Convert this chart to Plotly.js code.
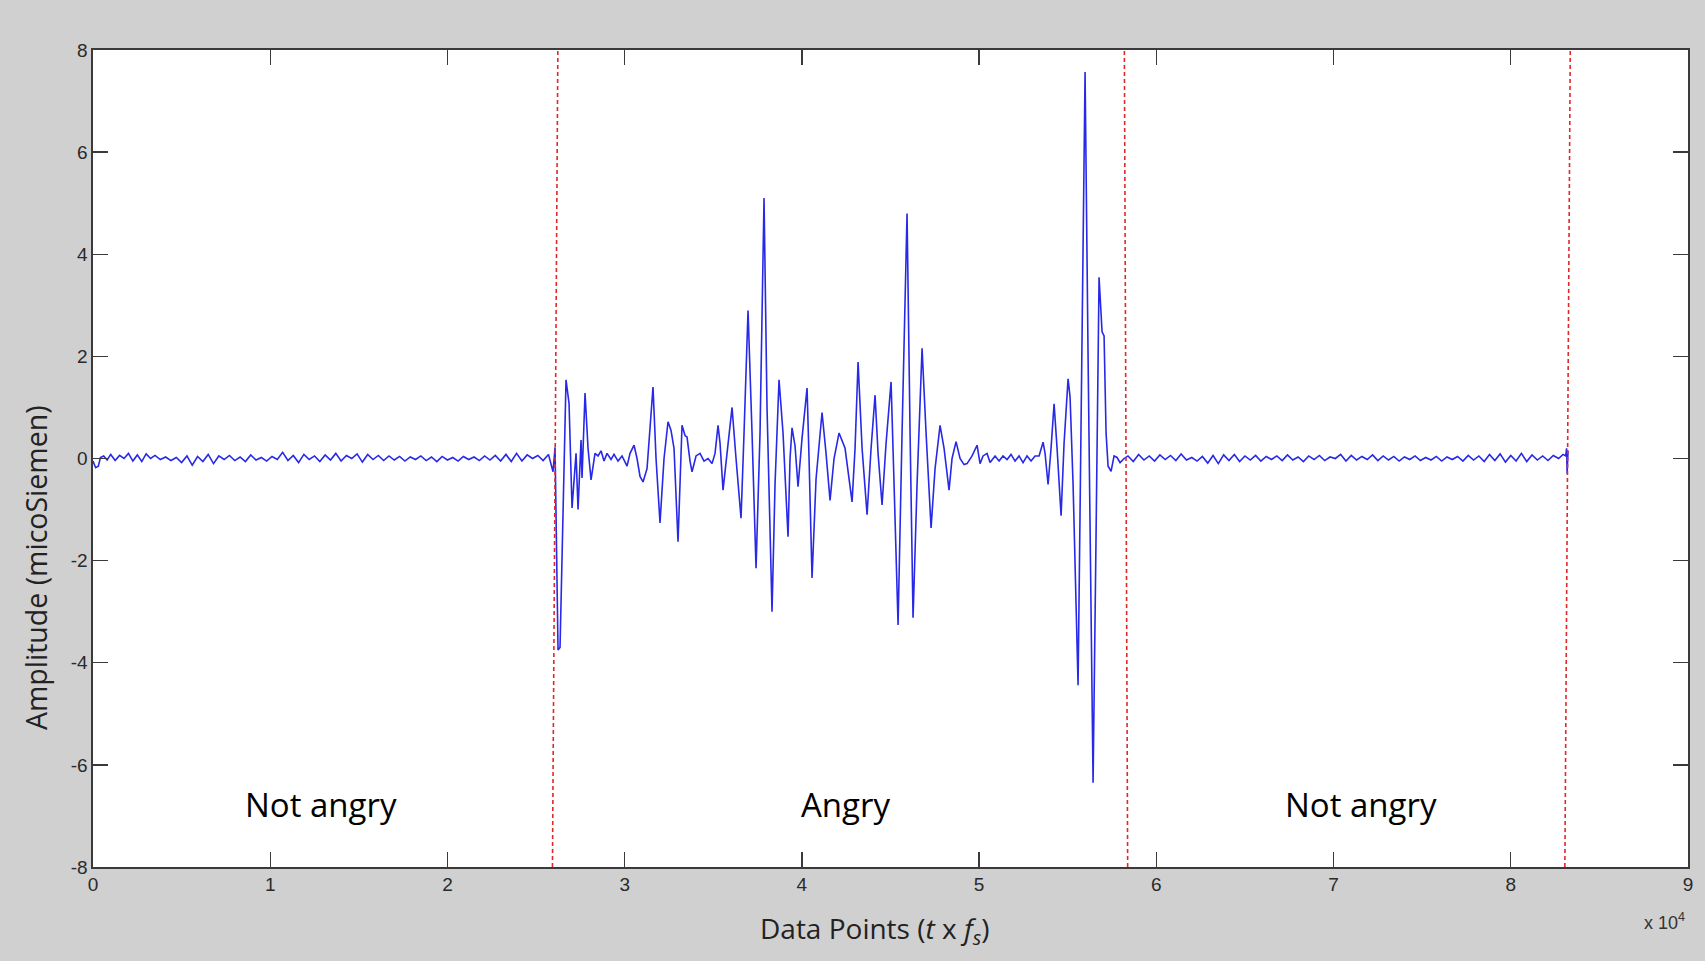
<!DOCTYPE html>
<html>
<head>
<meta charset="utf-8">
<script src="https://cdn.plot.ly/plotly-3.0.1.min.js"></script>
<style>
html,body{margin:0;padding:0;background:#d0d0d0;}
#chart{width:1705px;height:961px;}
</style>
</head>
<body>
<div id="chart"></div>
<script>
// ---- data ----
const leftX = [0,150,300,420,600,800,1000,1250,1500,1750,2000,2250,2500,2750,3000,3250,3500,3800,4100,4400,4700,5000,5300,5600,5900,6200,6500,6800,7100,7400,7700,8000,8300,8600,8900,9200,9500,9800,10100,10400,10700,11000,11300,11600,11900,12200,12500,12800,13100,13400,13700,14000,14300,14600,14900,15200,15500,15800,16100,16400,16700,17000,17300,17600,17900,18200,18500,18800,19100,19400,19700,20000,20300,20600,20900,21200,21500,21800,22100,22400,22700,23000,23300,23600,23900,24200,24500,24800,25100,25400,25700];
const leftY = [-0.05,-0.18,-0.15,0.02,0.05,-0.03,0.08,-0.04,0.06,0.0,0.1,-0.05,0.07,-0.06,0.09,0.0,0.06,-0.02,0.03,-0.04,0.02,-0.08,0.05,-0.13,0.04,-0.06,0.08,-0.1,0.05,-0.02,0.06,-0.04,0.03,-0.06,0.07,-0.03,0.02,-0.05,0.04,-0.02,0.12,-0.04,0.06,-0.08,0.08,-0.02,0.05,-0.06,0.07,-0.03,0.1,-0.05,0.06,0.0,0.09,-0.07,0.08,-0.02,0.06,-0.04,0.05,-0.03,0.04,-0.05,0.03,-0.02,0.05,-0.04,0.03,-0.06,0.04,-0.03,0.02,-0.05,0.04,-0.02,0.03,-0.04,0.05,-0.03,0.06,-0.05,0.08,-0.06,0.1,-0.05,0.07,0.0,0.06,-0.04,0.08];

const angryX = [25958,26071,26240,26353,26691,26861,27030,27256,27369,27538,27594,27764,27933,28102,28327,28497,28666,28835,29005,29231,29400,29626,29852,30134,30303,30529,30698,30867,31036,31262,31431,31600,31770,31995,32221,32446,32616,32785,33011,33124,33237,33406,33519,33688,33801,34027,34252,34478,34704,34930,35099,35268,35381,35550,35776,36059,36284,36566,36736,36961,37187,37413,37638,37864,38033,38315,38485,38710,38936,39218,39331,39444,39613,39783,40009,40291,40404,40573,40799,41137,41363,41589,41815,42097,42436,42831,43000,43170,43396,43678,43904,44129,44298,44524,44750,45032,45201,45427,45652,45934,46104,46273,46499,46781,47007,47289,47514,47796,48022,48304,48473,48699,48925,49150,49320,49602,49884,50053,50223,50448,50618,50900,51126,51351,51577,51803,52028,52254,52480,52705,52931,53157,53383,53609,53722,53891,54060,54230,54399,54625,54794,55020,55133,55302,55584,55697,55979,56148,56430,56599,56768,56938,57051,57164,57277,57446,57616,57785,57954,58180];
const angryY = [-0.26,0.22,-3.75,-3.7,1.54,1.08,-0.97,0.1,-1.0,0.36,-0.38,1.28,0.2,-0.42,0.1,0.05,0.15,-0.05,0.1,-0.02,0.08,-0.05,0.05,-0.15,0.1,0.26,0.0,-0.35,-0.46,-0.2,0.6,1.4,0.0,-1.26,0.0,0.72,0.55,0.2,-1.63,-0.4,0.65,0.45,0.42,-0.05,-0.26,0.05,0.1,-0.05,0.0,-0.1,0.1,0.65,0.3,-0.62,0.1,1.0,0.0,-1.17,0.5,2.9,0.5,-2.15,0.5,5.1,1.0,-3.0,-0.5,1.54,0.5,-1.53,0.0,0.6,0.25,-0.55,0.4,1.38,0.0,-2.34,-0.4,0.9,0.1,-0.82,0.0,0.5,0.2,-0.85,0.2,1.89,0.2,-1.1,0.2,1.24,0.1,-0.91,0.3,1.5,-0.5,-3.26,0.5,4.8,0.5,-3.12,-0.5,2.16,0.5,-1.36,-0.2,0.65,0.2,-0.62,0.0,0.33,0.0,-0.12,-0.1,0.05,0.26,-0.1,0.05,0.1,-0.08,0.05,-0.05,0.05,-0.02,0.08,-0.05,0.05,-0.08,0.05,-0.05,0.05,0.05,0.32,0.1,-0.51,0.2,1.07,0.2,-1.12,0.3,1.56,1.2,-0.5,-4.44,-1.0,7.57,2.0,-6.35,-1.5,3.55,2.48,2.4,0.5,-0.15,-0.25,0.05,0.02,-0.08,0.0];

const rightX = [58400,58700,59000,59300,59600,59900,60200,60500,60800,61100,61400,61700,62000,62300,62600,62900,63200,63500,63800,64100,64400,64700,65000,65300,65600,65900,66200,66500,66800,67100,67400,67700,68000,68300,68600,68900,69200,69500,69800,70100,70400,70700,71000,71300,71600,71900,72200,72500,72800,73100,73400,73700,74000,74300,74600,74900,75200,75500,75800,76100,76400,76700,77000,77300,77600,77900,78200,78500,78800,79100,79400,79700,80000,80300,80600,80900,81200,81500,81800,82100,82400,82700,82950,83100,83150,83180,83230];
const rightY = [0.05,-0.06,0.08,-0.03,0.05,-0.05,0.07,-0.02,0.06,-0.04,0.09,-0.03,0.02,-0.05,0.04,-0.09,0.06,-0.1,0.07,-0.04,0.08,-0.06,0.05,-0.03,0.06,-0.05,0.04,-0.02,0.05,-0.04,0.07,-0.03,0.03,-0.06,0.05,-0.02,0.06,-0.04,0.03,0.0,0.08,-0.05,0.06,-0.03,0.04,-0.02,0.07,-0.04,0.05,-0.03,0.04,-0.05,0.03,-0.02,0.05,-0.04,0.02,-0.03,0.04,-0.05,0.03,-0.02,0.04,-0.05,0.06,-0.03,0.05,-0.06,0.08,-0.04,0.09,-0.07,0.06,-0.05,0.1,-0.06,0.07,-0.03,0.05,-0.04,0.06,0.0,0.08,0.05,0.2,-0.3,0.15];

// region boundaries (dashed red lines), x at top and bottom of the axes
const boundaryTop = [26230, 58196, 83357];
const boundaryBottom = [25925, 58382, 83052];

const regionLabels = ["Not angry", "Angry", "Not angry"];
const regionLabelX = [12866, 42492, 71553];
const regionLabelY = -6.78;

const xTickVals = [0,10000,20000,30000,40000,50000,60000,70000,80000,90000];
const xTickText = ["0","1","2","3","4","5","6","7","8","9"];
const yTickVals = [-8,-6,-4,-2,0,2,4,6,8];
const yTickText = ["-8","-6","-4","-2","0","2","4","6","8"];

// ---- build ----
const xs = leftX.concat(angryX, rightX);
const ys = leftY.concat(angryY, rightY);

const trace = {
  x: xs, y: ys, type: 'scatter', mode: 'lines',
  line: {color: 'rgb(40,40,232)', width: 1.6},
  hoverinfo: 'skip'
};

const shapes = boundaryTop.map((t, i) => ({
  type: 'line', xref: 'x', yref: 'y',
  x0: boundaryBottom[i], y0: -8, x1: t, y1: 8,
  line: {color: 'rgb(225,40,40)', width: 1.6, dash: '4px,3px'}
}));

const annotations = regionLabels.map((s, i) => ({
  text: s, x: regionLabelX[i], y: regionLabelY, xref: 'x', yref: 'y',
  showarrow: false, xanchor: 'center', yanchor: 'middle',
  font: {family: 'Open Sans, sans-serif', size: 33, color: '#000'}
}));

annotations.push({
  text: 'Data Points (<i>t</i> x <i>f</i><sub><i>s</i></sub>)',
  xref: 'paper', yref: 'paper', x: 0.490, y: -0.077,
  showarrow: false, xanchor: 'center', yanchor: 'middle',
  font: {family: 'Open Sans, sans-serif', size: 28, color: '#222'}
});
annotations.push({
  text: 'Amplitude (micoSiemen)',
  xref: 'paper', yref: 'paper', x: -0.0357, y: 0.366, textangle: -90,
  showarrow: false, xanchor: 'center', yanchor: 'middle',
  font: {family: 'Open Sans, sans-serif', size: 28.5, color: '#222'}
});
annotations.push({
  text: 'x 10<sup>4</sup>',
  xref: 'paper', yref: 'paper', x: 0.985, y: -0.067,
  showarrow: false, xanchor: 'center', yanchor: 'middle',
  font: {family: 'Liberation Sans, Arial, sans-serif', size: 18, color: '#333'}
});

const axisCommon = {
  showline: true, linecolor: '#3a3a3a', linewidth: 1.6, mirror: 'allticks',
  ticks: 'inside', ticklen: 15, tickwidth: 1.4, tickcolor: '#3a3a3a',
  showgrid: false, zeroline: false,
  tickfont: {family: 'Liberation Sans, Arial, sans-serif', size: 19, color: '#2a2a2a'}
};

const layout = {
  width: 1705, height: 961,
  paper_bgcolor: '#d0d0d0', plot_bgcolor: '#ffffff',
  margin: {l: 93, r: 17, t: 50, b: 94},
  showlegend: false,
  xaxis: Object.assign({}, axisCommon, {
    range: [0, 90000], tickmode: 'array', tickvals: xTickVals, ticktext: xTickText
  }),
  yaxis: Object.assign({}, axisCommon, {
    range: [-8, 8], tickmode: 'array', tickvals: yTickVals, ticktext: yTickText
  }),
  shapes: shapes,
  annotations: annotations
};

Plotly.newPlot('chart', [trace], layout, {displayModeBar: false, staticPlot: true});
</script>
</body>
</html>
